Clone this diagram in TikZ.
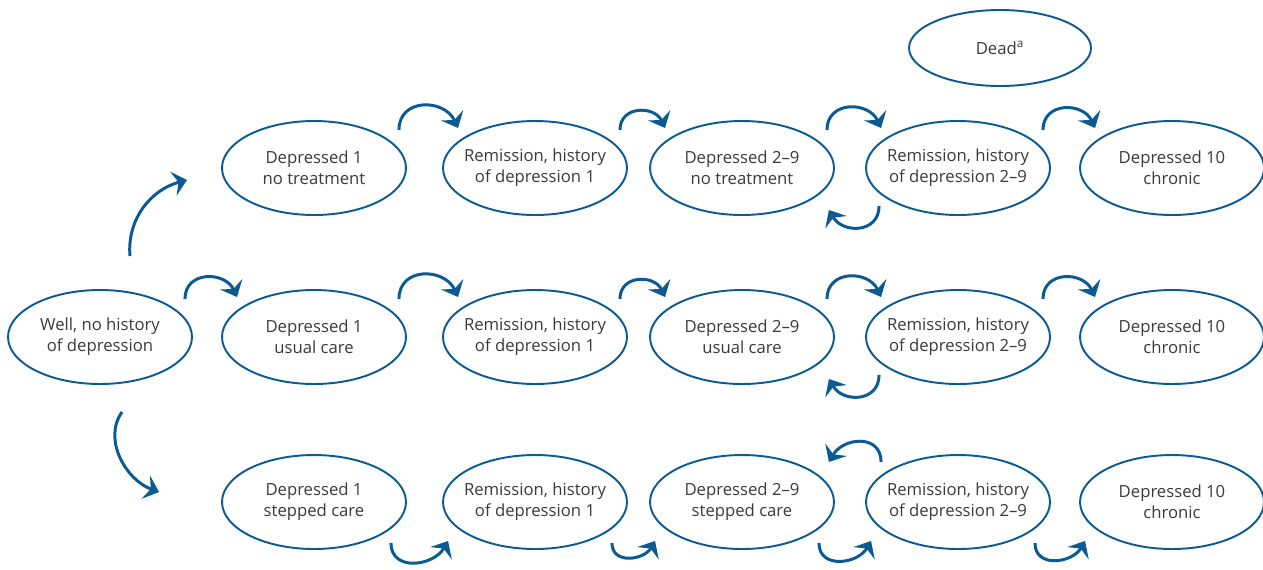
\documentclass[tikz,border=0pt]{standalone}
\usepackage{fontspec}
\setmainfont{Open Sans}
\usetikzlibrary{shapes.geometric,arrows.meta,calc}
\definecolor{arcblue}{HTML}{0B5A94}
\definecolor{txtgray}{HTML}{3A3A3A}
\begin{document}
\begin{tikzpicture}[x=0.02cm,y=-0.02cm,
  state/.style={ellipse,draw=arcblue,line width=1.1pt,minimum width=3.68cm,
    minimum height=1.88cm,inner sep=-6pt,align=center,text=txtgray,
    font=\fontsize{9.5}{11.8}\selectfont},
  cyc/.style={draw=arcblue,line width=1.7pt,looseness=1.4,
    -{Stealth[length=8pt,width=14pt,inset=3pt]}}]
  \useasboundingbox (0,0) rectangle (1263,569);
  % states, row by row
  \node[state,minimum width=3.64cm,minimum height=1.52cm] (dead) at (1000,48) {Dead\textsuperscript{a}};
  \node[state] (dep1n)  at (314,168)  {Depressed 1\\no treatment};
  \node[state] (rem1n)  at (535,168)  {Remission, history\\of depression 1};
  \node[state] (dep2n)  at (742,168)  {Depressed 2--9\\no treatment};
  \node[state] (rem2n)  at (958,168)  {Remission, history\\of depression 2--9};
  \node[state] (dep10n) at (1172,168) {Depressed 10\\chronic};
  \node[state] (well)   at (100,337)  {Well, no history\\of depression};
  \node[state] (dep1u)  at (314,337)  {Depressed 1\\usual care};
  \node[state] (rem1u)  at (535,337)  {Remission, history\\of depression 1};
  \node[state] (dep2u)  at (742,337)  {Depressed 2--9\\usual care};
  \node[state] (rem2u)  at (958,337)  {Remission, history\\of depression 2--9};
  \node[state] (dep10u) at (1172,337) {Depressed 10\\chronic};
  \node[state] (dep1s)  at (314,502)  {Depressed 1\\stepped care};
  \node[state] (rem1s)  at (535,502)  {Remission, history\\of depression 1};
  \node[state] (dep2s)  at (742,502)  {Depressed 2--9\\stepped care};
  \node[state] (rem2s)  at (958,502)  {Remission, history\\of depression 2--9};
  \node[state] (dep10s) at (1172,502) {Depressed 10\\chronic};
  % arcs over the top two rows
  \foreach \a/\b in {dep1n/rem1n,rem1n/dep2n,dep2n/rem2n,rem2n/dep10n,
                     well/dep1u,dep1u/rem1u,rem1u/dep2u,dep2u/rem2u,rem2u/dep10u}
    \draw[cyc] ($(\a.east)+(-8,-38)$) to[out=90,in=115] ($(\b.west)+(16,-40)$);
  % arcs under the bottom row
  \foreach \a/\b in {dep1s/rem1s,rem1s/dep2s,dep2s/rem2s,rem2s/dep10s}
    \draw[cyc,looseness=1.3] ($(\a.east)+(-16,41)$) to[out=-90,in=-120] ($(\b.west)+(6,39)$);
  % relapse back to depressed 2-9
  \draw[cyc] ($(rem2n.west)+(14,38)$) to[out=-90,in=-60] ($(dep2n.east)+(-6,42)$);
  \draw[cyc] ($(rem2u.west)+(14,38)$) to[out=-90,in=-60] ($(dep2u.east)+(-6,42)$);
  \draw[cyc] ($(rem2s.west)+(16,-40)$) to[out=90,in=60] ($(dep2s.east)+(-6,-40)$);
  % from well to the other two arms
  \draw[cyc,looseness=1] ($(well.north)+(30,-33)$) to[out=95,in=195] ($(dep1n.west)+(-34,12)$);
  \draw[cyc,looseness=1] ($(well.south)+(22,27)$) to[out=235,in=160] ($(dep1s.west)+(-62,-10)$);
\end{tikzpicture}
\end{document}
